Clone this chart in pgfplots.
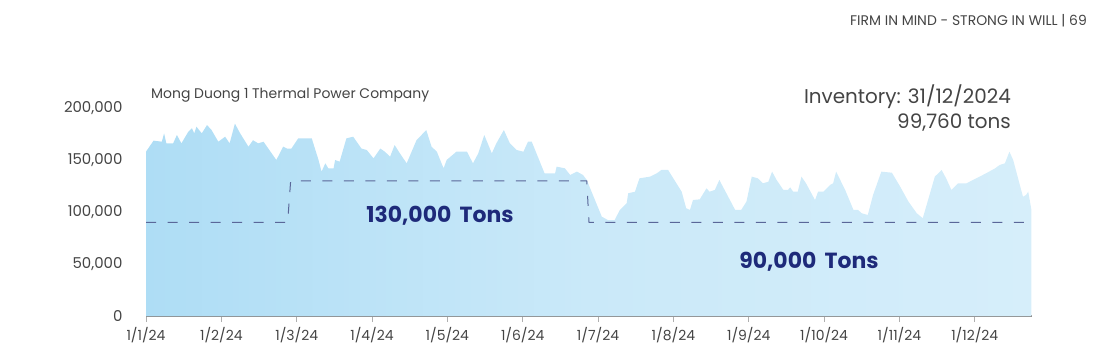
\documentclass[border=0pt]{standalone}
\usepackage{pgfplots}
\pgfplotsset{compat=1.18}
\usepackage{fontspec}
\setmainfont{Poppins}
\definecolor{txtgray}{HTML}{444444}
\definecolor{navy}{HTML}{1E2A7A}
\definecolor{dashc}{HTML}{5A6799}
\definecolor{axgray}{HTML}{8C8C8C}
\definecolor{bleft}{HTML}{AEDDF5}
\definecolor{bmid}{HTML}{CAE9F9}
\definecolor{bright}{HTML}{D6EEFA}
\pgfplotstableread{
m v
0.00 158000
0.10 168600
0.21 167600
0.24 175600
0.27 166000
0.36 166000
0.41 174000
0.47 166000
0.56 177000
0.61 180500
0.64 175600
0.67 182000
0.74 175600
0.81 183600
0.87 178800
0.96 167600
1.05 172400
1.11 166000
1.18 185000
1.25 175600
1.36 162800
1.42 169000
1.49 166000
1.56 167600
1.73 150000
1.82 162800
1.87 161000
1.93 161000
2.02 170800
2.20 170800
2.29 150000
2.33 138800
2.38 146800
2.42 142000
2.49 142000
2.51 150000
2.57 148400
2.66 170800
2.75 172400
2.86 161000
2.93 159600
3.02 151600
3.11 161000
3.17 158000
3.24 153200
3.30 164400
3.37 156400
3.46 146800
3.59 169000
3.72 178800
3.79 162800
3.86 158000
3.95 142000
3.99 150000
4.12 158000
4.26 158000
4.34 146800
4.41 156400
4.49 174000
4.59 156400
4.65 166000
4.75 178800
4.83 166000
4.92 159600
5.01 158000
5.07 167600
5.12 167600
5.29 137200
5.43 137200
5.45 143600
5.56 142000
5.63 135600
5.72 138800
5.80 135600
5.85 130800
6.05 95500
6.13 92300
6.22 92300
6.29 102000
6.38 108400
6.40 118000
6.49 119500
6.55 132400
6.69 134000
6.78 137200
6.84 140400
6.93 140400
7.11 119500
7.17 103600
7.22 102000
7.26 111500
7.35 112200
7.44 122800
7.48 119500
7.55 121200
7.61 130800
7.82 102000
7.90 102000
7.97 110000
8.04 134000
8.12 132400
8.19 127600
8.26 129100
8.31 138800
8.37 130800
8.46 121200
8.52 121200
8.55 123700
8.59 119500
8.65 119500
8.70 134000
8.76 127600
8.88 111500
8.92 119500
8.99 119500
9.08 126000
9.12 127600
9.16 138800
9.28 121200
9.39 102000
9.45 102000
9.50 98800
9.58 97100
9.65 116300
9.76 138800
9.90 137800
10.01 124400
10.12 110000
10.23 98800
10.31 94000
10.38 111500
10.47 134000
10.56 140400
10.62 132400
10.69 121200
10.78 127600
10.89 127600
11.02 132400
11.15 137200
11.27 142000
11.33 145200
11.40 146800
11.46 158000
11.51 150000
11.64 114700
11.68 116300
11.71 119500
11.75 103000
}\inventory
\begin{document}
\begin{tikzpicture}[x=1bp,y=1bp]
\path[use as bounding box] (0,0) rectangle (1093,357);
\begin{axis}[
  at={(146bp,41bp)}, anchor=south west,
  scale only axis, width=886bp, height=208bp,
  xmin=0, xmax=11.76, ymin=0, ymax=200000,
  clip=false,
  axis x line*=bottom, axis y line*=left,
  x axis line style={draw=axgray, line width=1.2bp, -},
  y axis line style={draw=none},
  xtick={0,...,11},
  xticklabels={1/1/24,1/2/24,1/3/24,1/4/24,1/5/24,1/6/24,1/7/24,1/8/24,1/9/24,1/10/24,1/11/24,1/12/24},
  ytick={0,50000,100000,150000,200000},
  scaled y ticks=false,
  tick align=outside,
  major tick length=6bp,
  x tick style={draw=axgray!70, line width=0.8bp},
  y tick style={draw=none},
  /pgf/number format/fixed,
  /pgf/number format/1000 sep={,},
  /pgf/number format/assume math mode=true,
  yticklabel style={font=\fontsize{15}{18}\selectfont, text=txtgray, xshift=-14bp},
  xticklabel style={font=\fontsize{14}{17}\selectfont, text=txtgray, yshift=-2bp},
]
\addplot[draw=none, left color=bleft, right color=bright, middle color=bmid] table[x=m, y=v] {\inventory} \closedcycle;
\addplot[dashc, line width=1bp, dash pattern=on 10bp off 11.5bp] coordinates {(0,90000) (1.88,90000) (1.92,130000) (5.85,130000) (5.88,90000) (11.76,90000)};
\end{axis}
\node[anchor=east, inner sep=0pt, text=txtgray, font=\fontsize{14}{17}\selectfont] at (1087,336) {FIRM IN MIND - STRONG IN WILL | 69};
\node[anchor=west, inner sep=0pt, text=txtgray, font=\fontsize{14}{17}\selectfont] at (151,262) {Mong Duong 1 Thermal Power Company};
\node[anchor=east, inner sep=0pt, text=txtgray, font=\fontsize{20}{24}\selectfont] at (1011,260) {Inventory: 31/12/2024};
\node[anchor=east, inner sep=0pt, text=txtgray, font=\fontsize{20}{24}\selectfont] at (1011,234) {99,760 tons};
\node[text=navy, font=\fontsize{22}{26}\selectfont\bfseries] at (440,141) {130,000\, Tons};
\node[text=navy, font=\fontsize{22}{26}\selectfont\bfseries] at (809,95) {90,000\, Tons};
\end{tikzpicture}
\end{document}
